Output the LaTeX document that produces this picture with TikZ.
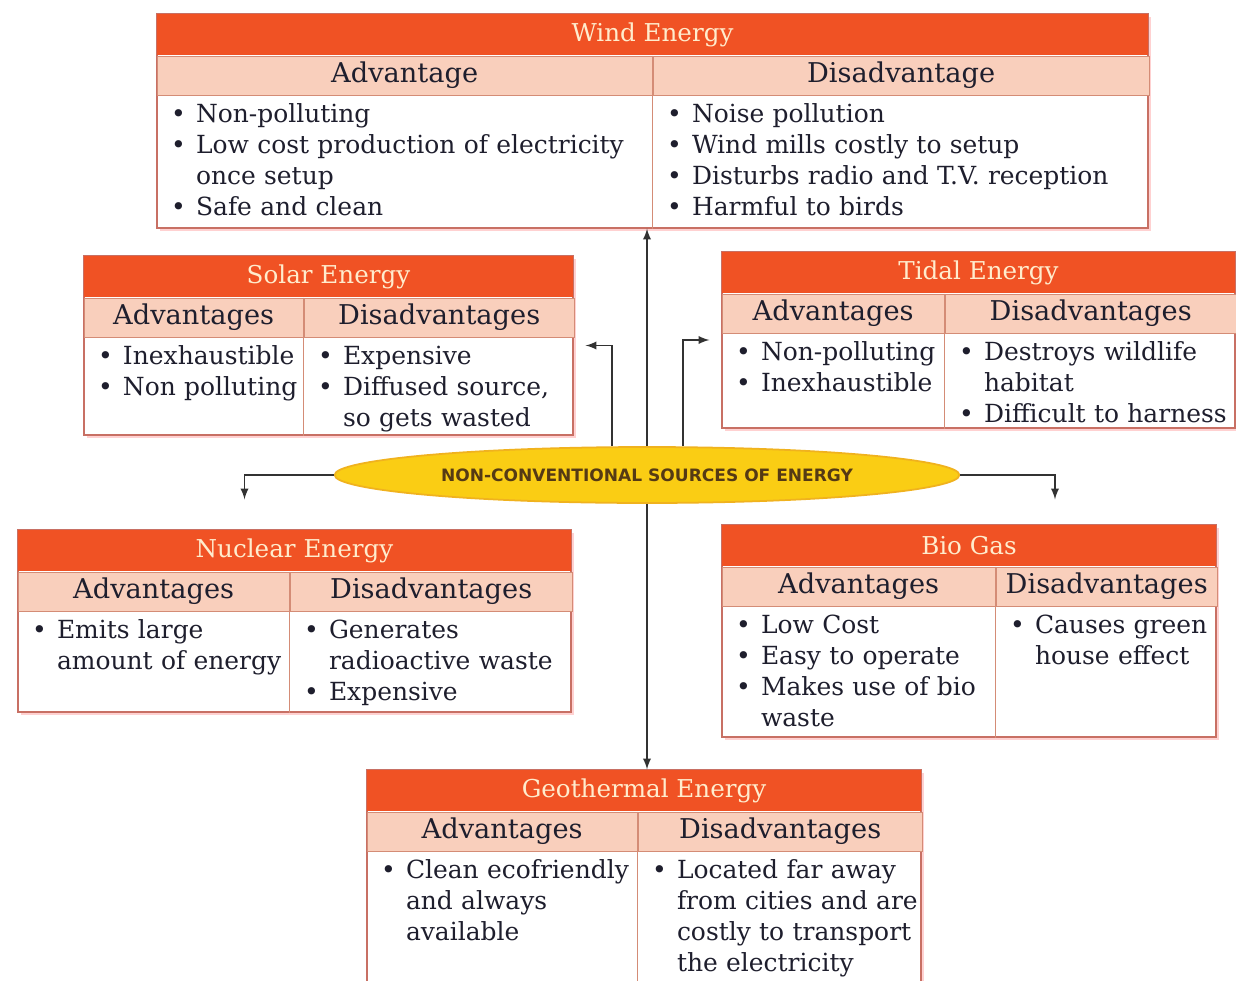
\documentclass[tikz,border=0pt]{standalone}
\usepackage{fontspec}
\setmainfont{DejaVu Serif}
\setsansfont{DejaVu Sans}
\usepackage{tikz}
\usetikzlibrary{shapes,shapes.geometric,arrows,positioning,shadows}

\definecolor{ttlc}{RGB}{240,82,36}
\definecolor{ttltext}{RGB}{255,236,205}
\definecolor{hdc}{RGB}{249,207,188}
\definecolor{hdline}{RGB}{212,140,118}
\definecolor{rimc}{RGB}{200,112,100}
\definecolor{txtc}{RGB}{30,30,45}
\definecolor{ellc}{RGB}{250,205,20}
\definecolor{ellrim}{RGB}{240,178,30}
\definecolor{elltext}{RGB}{85,58,20}
\definecolor{linec}{RGB}{50,50,50}

\newcommand{\bul}{\par\hangindent=1em\hangafter=1\noindent\makebox[1em][l]{\textbullet}}

\tikzset{
  frame/.style={rectangle, draw=rimc, line width=0.8pt, fill=white, inner sep=0pt,
    drop shadow={shadow xshift=1.5pt, shadow yshift=-1.5pt, fill=red!30!white, opacity=0.6}},
  ttl/.style={rectangle, fill=ttlc, text=ttltext, minimum height=0.83cm, anchor=north,
    inner sep=0pt, font=\fontsize{14}{16}\selectfont},
  hd/.style={rectangle, fill=hdc, draw=hdline, line width=0.6pt, minimum height=0.78cm,
    anchor=north west, inner sep=0pt, text=txtc, font=\fontsize{15.5}{17}\selectfont},
  lst/.style={anchor=north west, align=left, text width=9.6cm, inner xsep=0.28cm, inner ysep=0pt,
    yshift=0.08cm, text=txtc, font=\fontsize{14.2}{17.6}\selectfont},
  sep/.style={draw=hdline, line width=0.6pt},
  conn/.style={draw=linec, line width=1.1pt, -latex}
}

\begin{document}
\begin{tikzpicture}[x=0.02cm, y=-0.02cm]
  \useasboundingbox (0,0) rectangle (1236,980);

  % Wind Energy
  \node[frame, minimum width=19.82cm, minimum height=4.28cm] (wind) at (652.5,121) {};
  \node[ttl, minimum width=19.82cm] (windT) at (wind.north) {Wind Energy};
  \node[hd, minimum width=9.9cm] (windA) at (windT.south west) {Advantage};
  \node[hd, minimum width=9.92cm] (windD) at (windA.north east) {Disadvantage};
  \node[lst] (windAL) at (windA.south west)
    {\bul Non-polluting \bul Low cost production of electricity\newline once setup \bul Safe and clean\par};
  \node[lst] (windDL) at (windD.south west)
    {\bul Noise pollution \bul Wind mills costly to setup \bul Disturbs radio and T.V. reception \bul Harmful to birds\par};
  \draw[sep] (windA.north east) -- (windA.north east |- wind.south);

  % Solar Energy
  \node[frame, minimum width=9.78cm, minimum height=3.58cm] (solar) at (328.5,345.5) {};
  \node[ttl, minimum width=9.78cm] (solarT) at (solar.north) {Solar Energy};
  \node[hd, minimum width=4.38cm] (solarA) at (solarT.south west) {Advantages};
  \node[hd, minimum width=5.4cm] (solarD) at (solarA.north east) {Disadvantages};
  \node[lst] (solarAL) at (solarA.south west)
    {\bul Inexhaustible \bul Non polluting\par};
  \node[lst] (solarDL) at (solarD.south west)
    {\bul Expensive \bul Diffused source,\newline so gets wasted\par};
  \draw[sep] (solarA.north east) -- (solarA.north east |- solar.south);

  % Tidal Energy
  \node[frame, minimum width=10.26cm, minimum height=3.52cm] (tidal) at (978.5,340) {};
  \node[ttl, minimum width=10.26cm] (tidalT) at (tidal.north) {Tidal Energy};
  \node[hd, minimum width=4.44cm] (tidalA) at (tidalT.south west) {Advantages};
  \node[hd, minimum width=5.82cm] (tidalD) at (tidalA.north east) {Disadvantages};
  \node[lst] (tidalAL) at (tidalA.south west)
    {\bul Non-polluting \bul Inexhaustible\par};
  \node[lst] (tidalDL) at (tidalD.south west)
    {\bul Destroys wildlife\newline habitat \bul Difficult to harness\par};
  \draw[sep] (tidalA.north east) -- (tidalA.north east |- tidal.south);

  % Nuclear Energy
  \node[frame, minimum width=11.06cm, minimum height=3.64cm] (nuclear) at (294.5,621) {};
  \node[ttl, minimum width=11.06cm] (nuclearT) at (nuclear.north) {Nuclear Energy};
  \node[hd, minimum width=5.42cm] (nuclearA) at (nuclearT.south west) {Advantages};
  \node[hd, minimum width=5.64cm] (nuclearD) at (nuclearA.north east) {Disadvantages};
  \node[lst] (nuclearAL) at (nuclearA.south west)
    {\bul Emits large\newline amount of energy\par};
  \node[lst] (nuclearDL) at (nuclearD.south west)
    {\bul Generates\newline radioactive waste \bul Expensive\par};
  \draw[sep] (nuclearA.north east) -- (nuclearA.north east |- nuclear.south);

  % Bio Gas
  \node[frame, minimum width=9.88cm, minimum height=4.24cm] (bio) at (969,631) {};
  \node[ttl, minimum width=9.88cm] (bioT) at (bio.north) {Bio Gas};
  \node[hd, minimum width=5.46cm] (bioA) at (bioT.south west) {Advantages};
  \node[hd, minimum width=4.42cm] (bioD) at (bioA.north east) {Disadvantages};
  \node[lst] (bioAL) at (bioA.south west)
    {\bul Low Cost \bul Easy to operate \bul Makes use of bio\newline waste\par};
  \node[lst] (bioDL) at (bioD.south west)
    {\bul Causes green\newline house effect\par};
  \draw[sep] (bioA.north east) -- (bioA.north east |- bio.south);

  % Geothermal Energy
  \node[frame, minimum width=11.08cm, minimum height=4.4cm] (geo) at (644,880) {};
  \node[ttl, minimum width=11.08cm] (geoT) at (geo.north) {Geothermal Energy};
  \node[hd, minimum width=5.4cm] (geoA) at (geoT.south west) {Advantages};
  \node[hd, minimum width=5.68cm] (geoD) at (geoA.north east) {Disadvantages};
  \node[lst] (geoAL) at (geoA.south west)
    {\bul Clean ecofriendly\newline and always\newline available\par};
  \node[lst] (geoDL) at (geoD.south west)
    {\bul Located far away\newline from cities and are\newline costly to transport\newline the electricity\par};
  \draw[sep] (geoA.north east) -- (geoA.north east |- geo.south);

  % Centre
  \node[ellipse, fill=ellc, draw=ellrim, line width=1pt, minimum width=12.5cm, minimum height=1.12cm,
    text=elltext, font=\sffamily\bfseries\fontsize{9.7}{11}\selectfont] (src) at (647,475)
    {NON-CONVENTIONAL SOURCES OF ENERGY};

  % Connectors
  \draw[conn] (src.north) -- (src.north |- wind.south);
  \draw[conn] (src.south) -- (src.south |- geo.north);
  \draw[conn] ([xshift=-0.7cm]src.north) |- ([xshift=0.24cm]solar.east);
  \draw[conn] ([xshift=0.72cm]src.north) |- ([xshift=-0.24cm]tidal.west);
  \draw[conn] (src.west) -| ([xshift=-1cm,yshift=0.6cm]nuclear.north);
  \draw[conn] (src.east) -| ([xshift=1.72cm,yshift=0.5cm]bio.north);
\end{tikzpicture}
\end{document}
